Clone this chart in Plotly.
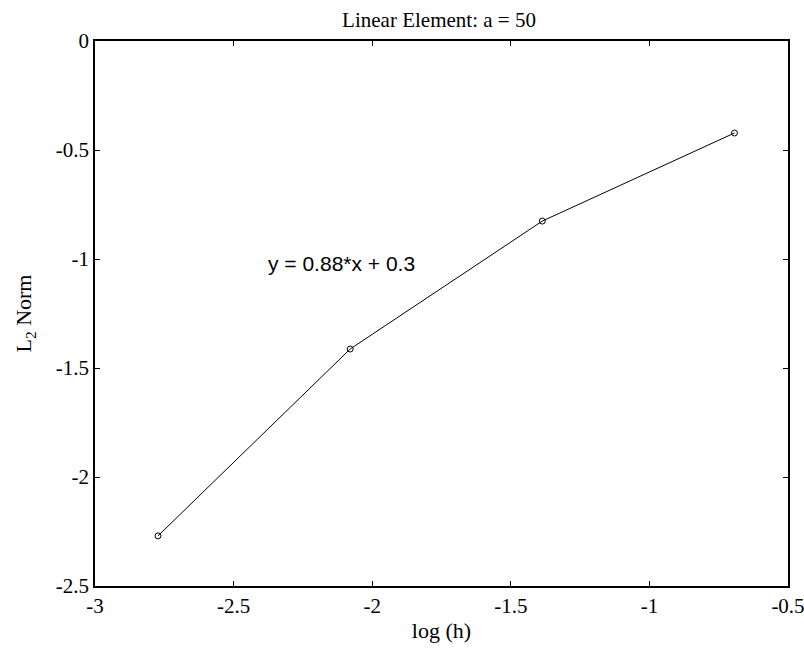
import plotly.graph_objects as go

log_h = [-2.7726, -2.0794, -1.3863, -0.6931]
l2_norm = [-2.27, -1.413, -0.826, -0.422]
x_ticks = [-3, -2.5, -2, -1.5, -1, -0.5]
y_ticks = [-2.5, -2, -1.5, -1, -0.5, 0]

fig = go.Figure()
fig.add_trace(go.Scatter(
    x=log_h, y=l2_norm, mode="lines+markers",
    line=dict(color="black", width=1),
    marker=dict(symbol="circle-open", size=6, color="black", line=dict(width=1)),
    showlegend=False,
))

axis_common = dict(
    showgrid=False, zeroline=False, showline=True, linecolor="black", linewidth=1.5,
    mirror="ticks", ticks="inside", ticklen=5, tickcolor="black", tickwidth=1,
    tickfont=dict(family="Liberation Serif", size=21, color="black"),
    automargin=False, ticklabeloverflow="allow",
)
fig.update_xaxes(range=[-3, -0.5], tickvals=x_ticks, ticktext=[str(v) for v in x_ticks],
                 title=dict(text="log (h)", font=dict(family="Liberation Serif", size=22, color="black"), standoff=6),
                 **axis_common)
fig.update_yaxes(range=[-2.5, 0], tickvals=y_ticks, ticktext=[str(v) for v in y_ticks],
                 title=dict(text="L<sub>2</sub> Norm", font=dict(family="Liberation Serif", size=22, color="black"), standoff=18),
                 **axis_common)

fig.add_annotation(x=-2.109, y=-1.02, text="y = 0.88*x + 0.3", showarrow=False,
                   font=dict(family="Liberation Sans", size=21, color="black"))

fig.update_layout(
    width=804, height=650,
    margin=dict(l=95, r=16, t=41, b=64),
    plot_bgcolor="white", paper_bgcolor="white",
    title=dict(text="Linear Element: a = 50", x=439 / 804, xanchor="center", y=1 - 20 / 650, yanchor="middle",
               font=dict(family="Liberation Serif", size=21, color="black")),
)
fig.write_html("out.html")
